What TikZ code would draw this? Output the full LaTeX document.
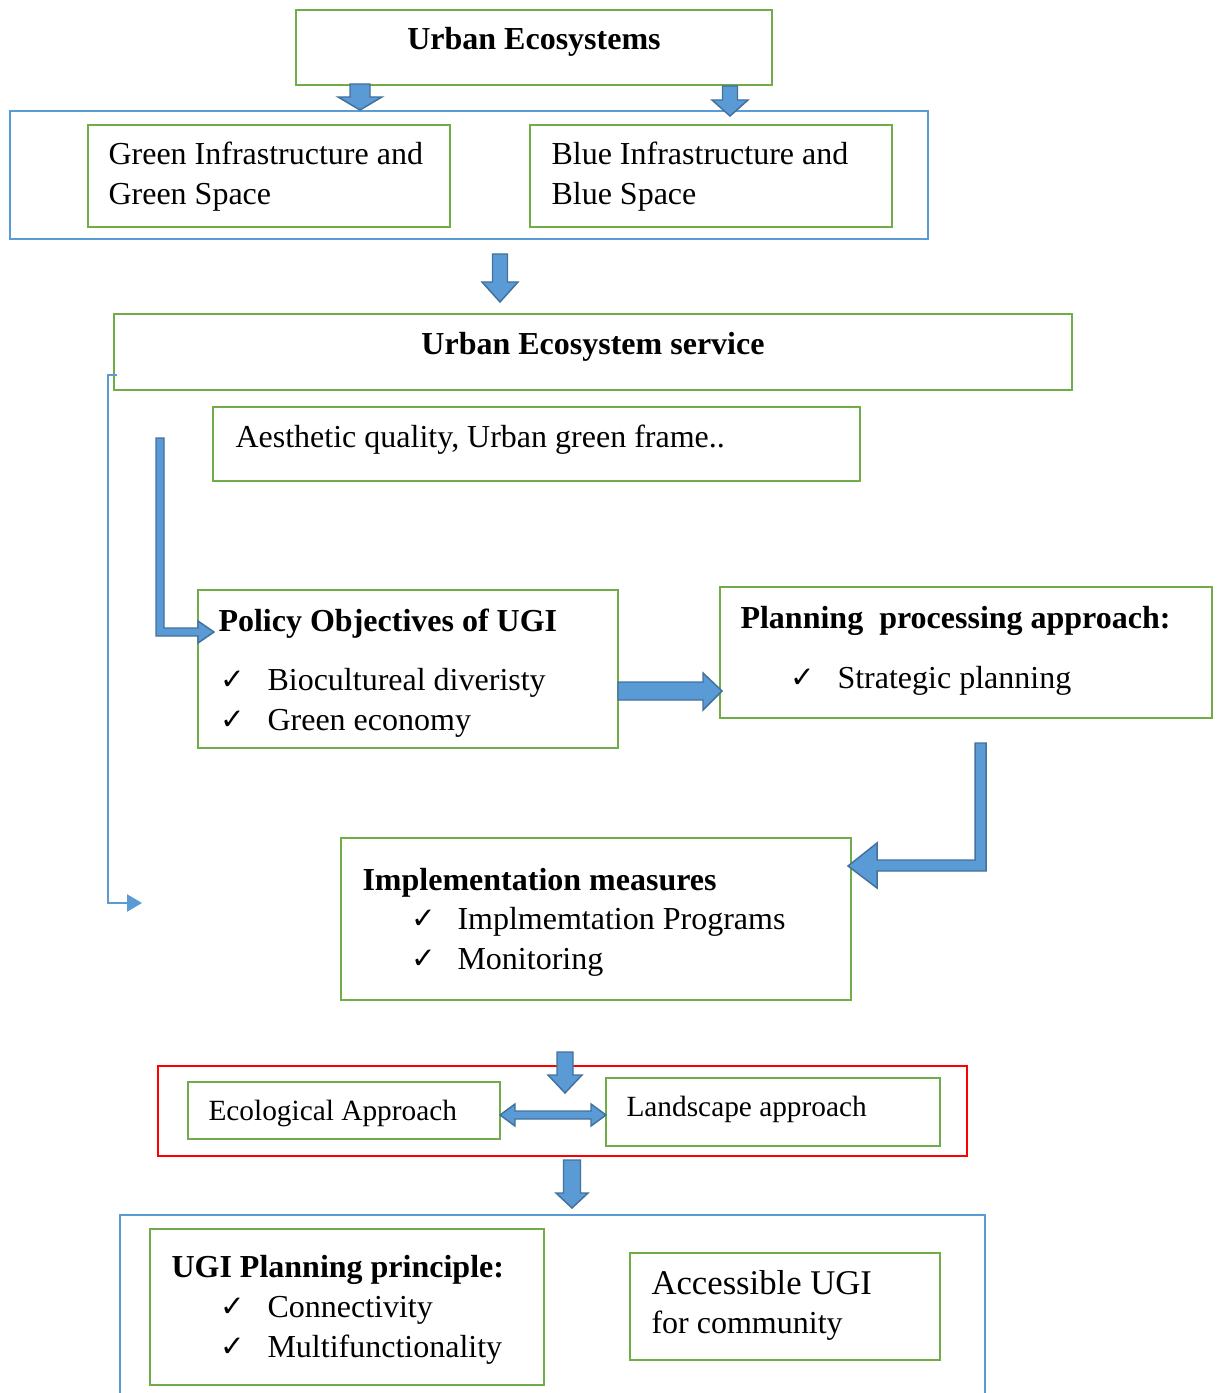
\documentclass[tikz,border=0pt]{standalone}
\usepackage{fontspec}
\setmainfont{Liberation Serif}
\newfontfamily\symf{DejaVu Sans}
\usetikzlibrary{fit,arrows.meta}
\definecolor{gbox}{HTML}{70AD47}
\definecolor{bbox}{HTML}{5B9BD5}
\definecolor{afill}{HTML}{5B9BD5}
\definecolor{aline}{HTML}{41719C}
\definecolor{rbox}{HTML}{FF0000}
\newcommand\ck{{\symf\fontsize{11}{13}\selectfont ✓}}
\newcommand\dnarrow[6]{%
\draw[blockarrow] ({#1-#5},#2) -- ({#1+#5},#2) -- ({#1+#5},#3) -- ({#1+#6},#3) -- (#1,#4) -- ({#1-#6},#3) -- ({#1-#5},#3) -- cycle;}
\tikzset{
  gboxs/.style={draw=gbox, line width=0.95pt, inner sep=0pt},
  bboxs/.style={draw=bbox, line width=0.8pt, inner sep=0pt},
  rboxs/.style={draw=rbox, line width=0.8pt, inner sep=0pt},
  txt/.style={anchor=base west, inner sep=0pt, font=\fontsize{12}{14.4}\selectfont},
  stxt/.style={txt, font=\fontsize{11}{13.2}\selectfont},
  ltxt/.style={txt, font=\fontsize{13}{15.6}\selectfont},
  btxt/.style={txt, font=\fontsize{12}{14.4}\selectfont\bfseries},
  blockarrow/.style={fill=afill, draw=aline, line width=0.55pt, line join=miter},
  thinarrow/.style={draw=bbox, line width=0.75pt, -{Triangle[length=5.6pt,width=6.4pt]}}
}
\begin{document}
\begin{tikzpicture}[x=0.375pt,y=-0.375pt]
\useasboundingbox (0,0) rectangle (1217,1393);
% boxes
\node[gboxs, fit={(296,10) (772,85)}] (ue) {};
\node[bboxs, fit={(10,111) (928,239)}] (outer1) {};
\node[gboxs, fit={(88,125) (450,227)}] (gi) {};
\node[gboxs, fit={(530,125) (892,227)}] (bi) {};
\node[gboxs, fit={(114,314) (1072,390)}] (ues) {};
\node[gboxs, fit={(213,407) (860,481)}] (aes) {};
\node[gboxs, fit={(198,590) (618,748)}] (pol) {};
\node[gboxs, fit={(720,587) (1212,718)}] (plan) {};
\node[gboxs, fit={(341,838) (851,1000)}] (impl) {};
\node[rboxs, fit={(158,1066) (967,1156)}] (red) {};
\node[gboxs, fit={(188,1082) (500,1139)}] (eco) {};
\node[gboxs, fit={(606,1078) (940,1146)}] (land) {};
\node[bboxs, fit={(120,1215) (985,1410)}] (outer2) {};
\node[gboxs, fit={(150,1229) (544,1385)}] (ugi) {};
\node[gboxs, fit={(630,1253) (940,1360)}] (acc) {};
% texts
\node[btxt, anchor=base] (t1) at (534,50) {Urban Ecosystems};
\node[txt] (t2) at (108,165) {Green Infrastructure and};
\node[txt] (t3) at (108,205) {Green Space};
\node[txt] (t4) at (551,165) {Blue Infrastructure and};
\node[txt] (t5) at (551,205) {Blue Space};
\node[btxt, anchor=base] (t6) at (593,355) {Urban Ecosystem service};
\node[txt] (t7) at (235,447) {Aesthetic quality, Urban green frame..};
\node[btxt] (t8) at (218,631) {Policy Objectives of UGI};
\node[txt] (c1) at (220,689) {\ck};
\node[txt] (t9) at (267,690) {Biocultureal diveristy};
\node[txt] (c2) at (220,729) {\ck};
\node[txt] (t10) at (267,730) {Green economy};
\node[btxt] (t11) at (740,628) {Planning~~processing approach:};
\node[txt] (c3) at (790,687) {\ck};
\node[txt] (t12) at (837,688) {Strategic planning};
\node[btxt] (t13) at (362,890) {Implementation measures};
\node[txt] (c4) at (411,928) {\ck};
\node[txt] (t14) at (457,929) {Implmemtation Programs};
\node[txt] (c5) at (411,968) {\ck};
\node[txt] (t15) at (457,969) {Monitoring};
\node[stxt] (t16) at (208,1120) {Ecological Approach};
\node[stxt] (t17) at (626,1116) {Landscape approach};
\node[btxt] (t18) at (171,1277) {UGI Planning principle:};
\node[txt] (c6) at (220,1316) {\ck};
\node[txt] (t19) at (267,1317) {Connectivity};
\node[txt] (c7) at (220,1356) {\ck};
\node[txt] (t20) at (267,1357) {Multifunctionality};
\node[ltxt] (t21) at (651,1294) {Accessible UGI};
\node[txt] (t22) at (651,1333) {for community};
% block arrows
\dnarrow{360}{84}{97}{110}{10}{22}
\dnarrow{730}{86}{100}{116}{7.5}{18}
\dnarrow{500}{254}{282}{302}{7.5}{18}
\dnarrow{565}{1052}{1075}{1093}{8}{17}
\dnarrow{572}{1160}{1193}{1208}{8.5}{16}
\draw[blockarrow] (156,438) -- (164,438) -- (164,628) -- (198,628) -- (198,621) -- (214,632) -- (198,643) -- (198,636) -- (156,636) -- cycle;
\draw[blockarrow] (618,682) -- (703,682) -- (703,673) -- (722,691) -- (703,710) -- (703,700) -- (618,700) -- cycle;
\draw[blockarrow] (975,743) -- (986,743) -- (986,871) -- (877,871) -- (877,888) -- (848,866) -- (877,843) -- (877,860) -- (975,860) -- cycle;
\draw[blockarrow] (500,1115) -- (515,1104) -- (515,1111) -- (591,1111) -- (591,1104) -- (606,1115) -- (591,1126) -- (591,1119) -- (515,1119) -- (515,1126) -- cycle;
% thin connector
\coordinate (ts) at (117,375);
\coordinate (te) at (142,903);
\draw[thinarrow] (ts) -- (108,375) -- (108,903) -- (te);
\end{tikzpicture}
\end{document}
